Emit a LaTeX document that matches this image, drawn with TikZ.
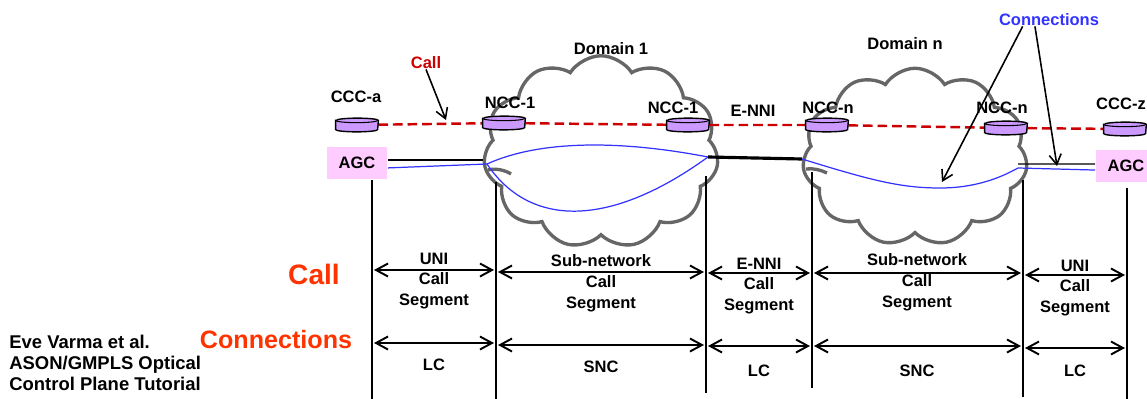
\documentclass[tikz,border=0pt]{standalone}
\usepackage{fontspec}
\setmainfont{Liberation Sans}
\usetikzlibrary{arrows.meta,shapes.symbols}

\definecolor{callred}{RGB}{204,0,0}
\definecolor{connblue}{RGB}{51,51,255}
\definecolor{ctrlfill}{RGB}{204,153,255}
\definecolor{agcfill}{RGB}{255,204,255}
\definecolor{cloudgray}{RGB}{102,102,102}
\definecolor{titleorange}{RGB}{255,51,0}

\tikzset{
  lbl/.style={font=\fontsize{9.4}{11.9}\selectfont\bfseries, align=center, inner sep=0pt},
  ctrl/.style={rectangle, minimum width=0.84cm, minimum height=0.17cm, inner sep=0pt},
  agc/.style={rectangle, fill=agcfill, minimum width=1.22cm, minimum height=0.64cm,
    inner sep=0pt, font=\fontsize{9.4}{11.9}\selectfont\bfseries},
  domcloud/.style={cloud, cloud puffs=11, cloud puff arc=115, cloud ignores aspect,
    draw=cloudgray, line width=1.9pt, inner sep=0pt},
  hook/.style={cloudgray, line width=1.9pt},
  callline/.style={callred, line width=1.4pt, dash pattern=on 5.5pt off 2.8pt},
  conn/.style={connblue, line width=0.7pt},
  seg/.style={{Straight Barb[length=2.4mm,width=2.6mm]}-{Straight Barb[length=2.4mm,width=2.6mm]}, line width=1.1pt},
  pointer/.style={-{Straight Barb[length=2mm,width=2.4mm]}, line width=0.9pt},
  bigtitle/.style={text=titleorange, inner sep=0pt, font=\fontsize{#1}{#1}\selectfont\bfseries},
  rim/.style={x radius=0.42cm, y radius=0.045cm}
}

\begin{document}
\begin{tikzpicture}[x=0.02cm, y=-0.02cm]
    \useasboundingbox (0,0) rectangle (1147,399);

    % domains
    \node[domcloud, minimum width=4.7cm, minimum height=3.85cm] (DOM1) at (601,152) {};
    \node[domcloud, minimum width=4.5cm, minimum height=3.55cm] (DOMN) at (915,157) {};
    \draw[hook] (488,170) .. controls (495,168) and (505,170) .. (511,174);
    \draw[hook] (806,169) .. controls (813,168) and (821,170) .. (827,173);
    \node[lbl] at (611,49) {Domain 1};
    \node[lbl] at (905,44) {Domain n};

    % call controllers
    \node[ctrl] (CCCA) at (357,125) {};
    \node[ctrl] (NCC1L) at (504,123) {};
    \node[ctrl] (NCC1R) at (688,125) {};
    \node[ctrl] (NCCNL) at (827,125) {};
    \node[ctrl] (NCCNR) at (1006,128) {};
    \node[ctrl] (CCCZ) at (1125,129) {};
    \draw[callline] (CCCA) -- (NCC1L) -- (NCC1R) -- (NCCNL) -- (NCCNR) -- (CCCZ);
    \foreach \n in {CCCA,NCC1L,NCC1R,NCCNL,NCCNR,CCCZ}
    {
        \filldraw[fill=ctrlfill, line width=0.8pt] (\n.north west) -- (\n.south west)
            arc[start angle=180, end angle=360, rim] -- (\n.north east)
            arc[start angle=0, end angle=180, rim] -- cycle;
        \draw[line width=0.6pt] (\n.north west) arc[start angle=180, end angle=360, rim];
    }
    \node[lbl] at (356,97) {CCC-a};
    \node[lbl] at (510,103) {NCC-1};
    \node[lbl] at (673,108) {NCC-1};
    \node[lbl] at (753,111) {E-NNI};
    \node[lbl] at (828,108) {NCC-n};
    \node[lbl] at (1002,108) {NCC-n};
    \node[lbl] at (1121,104) {CCC-z};

    % call pointer
    \node[lbl, text=callred] (CALL) at (426,63) {Call};
    \coordinate (PTC) at (446,120);
    \draw[pointer] (CALL.south) -- (PTC);

    % access group containers
    \node[agc] (AGCA) at (357,163) {AGC};
    \node[agc] (AGCZ) at (1126,166) {AGC};

    % connections
    \coordinate (C1W) at (487,164);
    \coordinate (C1E) at (708,157);
    \coordinate (CNW) at (802,159);
    \coordinate (CNE) at (1018,168);
    \draw[line width=0.7pt] ([yshift=1.7pt]AGCA.east) -- ++(95,0);
    \draw[conn] ([yshift=-2.8pt]AGCA.east) -- (C1W);
    \draw[conn] (C1W) .. controls (540,140) and (620,140) .. (C1E);
    \draw[conn] (C1W) .. controls (530,228) and (610,228) .. (C1E);
    \draw[line width=1.8pt] (C1E) -- (CNW);
    \draw[conn] (CNW) .. controls (870,180) and (900,188) .. (940,188)
        .. controls (975,188) and (1000,178) .. (CNE);
    \draw[line width=0.7pt] ([yshift=2.3pt]CNE) -- ([yshift=1.1pt]AGCZ.west);
    \draw[conn] (CNE) -- ([yshift=-2.3pt]AGCZ.west);

    % connections pointer
    \node[lbl, text=connblue] (CONN) at (1049,20) {Connections};
    \coordinate (PTA) at (942,182);
    \coordinate (PTB) at (1057,166);
    \draw[pointer] ([xshift=-15pt]CONN.south) -- (PTA);
    \draw[pointer] ([xshift=-8pt]CONN.south) -- (PTB);

    % segment boundaries
    \foreach \x/\t/\b in {372/180/399, 496/182/399, 706/176/393, 812/172/388, 1023/180/397, 1127/188/399}
        \draw[line width=0.7pt] (\x,\t) -- (\x,\b);

    % segment arrows
    \foreach \a/\b/\ys/\yc in {374/494/270/343, 498/704/272/345, 708/810/273/346, 814/1021/273/346, 1025/1125/275/348}
    {
        \draw[seg] (\a,\ys) -- (\b,\ys);
        \draw[seg] (\a,\yc) -- (\b,\yc);
    }

    % segment labels
    \node[lbl] at (434,281) {UNI\\Call\\Segment};
    \node[lbl] at (601,283) {Sub-network\\Call\\Segment};
    \node[lbl] at (759,286) {E-NNI\\Call\\Segment};
    \node[lbl] at (917,282) {Sub-network\\Call\\Segment};
    \node[lbl] at (1075,288) {UNI\\Call\\Segment};
    \node[lbl] at (434,365) {LC};
    \node[lbl] at (601,367) {SNC};
    \node[lbl] at (759,371) {LC};
    \node[lbl] at (917,371) {SNC};
    \node[lbl] at (1075,371) {LC};

    % row titles and credits
    \node[bigtitle=16] at (314,274) {Call};
    \node[bigtitle=14.3] at (276,340) {Connections};
    \node[lbl, align=left, anchor=north west, font=\fontsize{10.5}{11.9}\selectfont\bfseries] at (9,335) {Eve Varma et al.\\ASON/GMPLS Optical\\Control Plane Tutorial};
\end{tikzpicture}
\end{document}
